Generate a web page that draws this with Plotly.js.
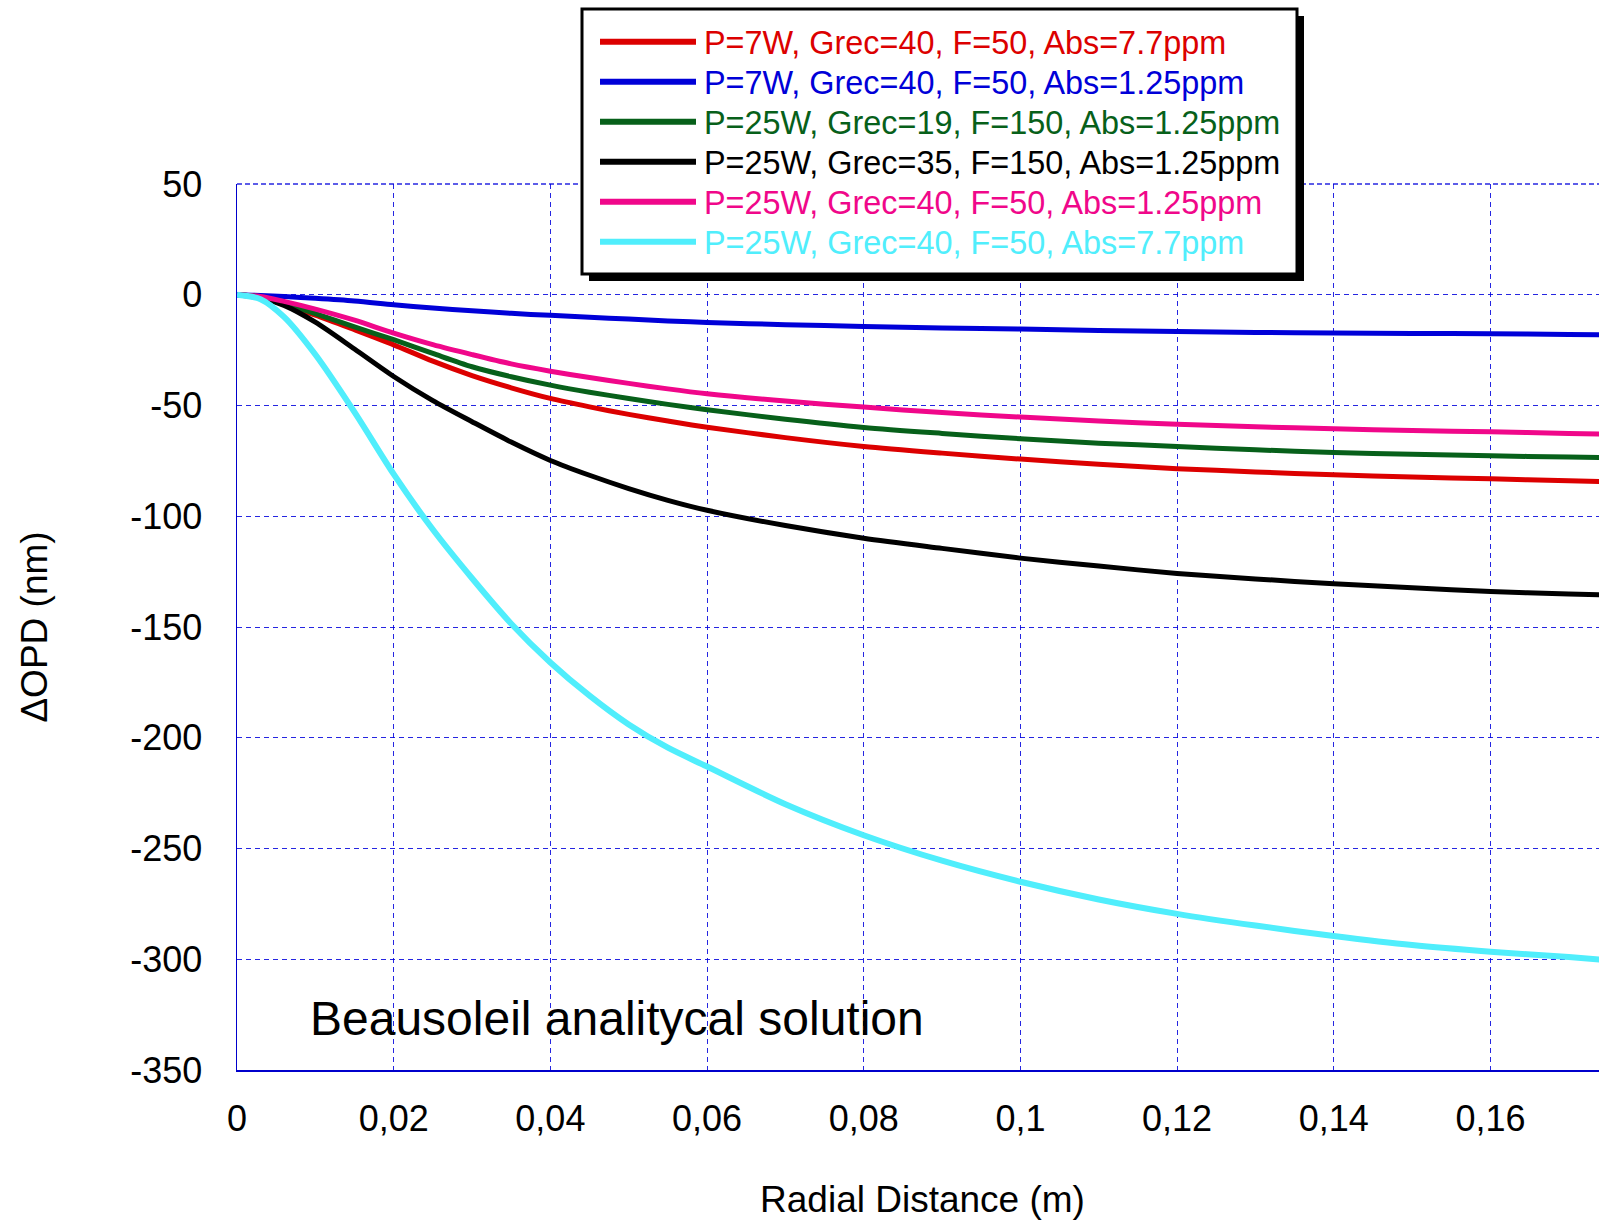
<!DOCTYPE html>
<html>
<head>
<meta charset="utf-8">
<script src="https://cdn.plot.ly/plotly-3.0.1.min.js"></script>
<style>
html,body{margin:0;padding:0;background:#fff;overflow:hidden;}
#chart{width:1620px;height:1220px;}
</style>
</head>
<body>
<div id="chart"></div>
<script>
// ---- data ----
const radialDistance = [0, 0.003, 0.006, 0.01, 0.015, 0.02, 0.025, 0.03, 0.035, 0.04, 0.045, 0.05, 0.055, 0.06, 0.07, 0.08, 0.09, 0.10, 0.11, 0.12, 0.13, 0.14, 0.15, 0.16, 0.17, 0.175];

const seriesNames = [
  "P=7W, Grec=40, F=50, Abs=7.7ppm",
  "P=7W, Grec=40, F=50, Abs=1.25ppm",
  "P=25W, Grec=19, F=150, Abs=1.25ppm",
  "P=25W, Grec=35, F=150, Abs=1.25ppm",
  "P=25W, Grec=40, F=50, Abs=1.25ppm",
  "P=25W, Grec=40, F=50, Abs=7.7ppm"
];

const opdRed   = [0, -1, -4.5, -9.2, -15.8, -22.6, -30, -36.5, -42, -46.8, -50.6, -54, -57, -59.8, -64.5, -68.5, -71.5, -74.2, -76.5, -78.5, -80, -81.3, -82.3, -83.1, -84, -84.4];
const opdBlue  = [0, -0.3, -0.8, -1.6, -2.8, -4.5, -6, -7.2, -8.4, -9.3, -10.2, -11, -11.8, -12.5, -13.5, -14.3, -15, -15.5, -16.1, -16.6, -17, -17.3, -17.5, -17.6, -17.9, -18.1];
const opdGreen = [0, -1, -4, -8.5, -14.5, -20.3, -26.5, -32.5, -37, -40.8, -44, -46.8, -49.5, -51.9, -56.2, -59.9, -62.6, -65, -67, -68.5, -70, -71.2, -72, -72.7, -73.3, -73.6];
const opdBlack = [0, -1.5, -4.8, -12.4, -24.5, -36.9, -47.8, -57.3, -66.5, -74.8, -81.5, -87.5, -92.8, -97.3, -104.2, -109.9, -114.5, -118.9, -122.5, -125.8, -128.3, -130.5, -132.3, -134, -135.1, -135.6];
const opdPink  = [0, -0.8, -3, -6.5, -11.5, -17.3, -22.5, -27, -31.2, -34.5, -37.4, -40, -42.5, -44.7, -48, -50.7, -53.2, -55.2, -57, -58.5, -59.6, -60.5, -61.3, -61.9, -62.6, -62.9];
const opdCyan  = [0, -2, -10, -27, -53, -81, -106, -128, -148.5, -166, -181, -194, -204.5, -213, -230, -244, -255.5, -265, -273, -279.5, -284.8, -289.5, -293.6, -296.6, -299, -300.4];

const xTickVals   = [0, 0.02, 0.04, 0.06, 0.08, 0.10, 0.12, 0.14, 0.16];
const xTickLabels = ["0", "0,02", "0,04", "0,06", "0,08", "0,1", "0,12", "0,14", "0,16"];
const yTickVals   = [50, 0, -50, -100, -150, -200, -250, -300, -350];
const yTickLabels = ["50", "0", "-50", "-100", "-150", "-200", "-250", "-300", "-350"];

const xTitle = "Radial Distance (m)";
const yTitle = "\u0394OPD (nm)";
const noteText = "Beausoleil analitycal solution";

// ---- styles ----
const seriesValues = [opdRed, opdBlue, opdGreen, opdBlack, opdPink, opdCyan];
const colors = ["#dc0000", "#0000d8", "#07601a", "#000000", "#f0078a", "#50eefc"];
const widths = [5, 5, 5, 5, 5, 6];

const W = 1620, H = 1220;
const ML = 237, MR = 12, MT = 184, MB = 150;
const PW = W - ML - MR, PH = H - MT - MB;
const px2x = p => (p - ML) / PW;
const px2y = p => (MT + PH - p) / PH;

const FONT = "Liberation Sans, Arial, Helvetica, sans-serif";
const GRID = "rgba(0,0,220,0.85)";

const traces = seriesValues.map((vals, i) => ({
  type: "scatter",
  mode: "lines",
  x: radialDistance,
  y: vals,
  name: seriesNames[i],
  line: {color: colors[i], width: widths[i], shape: "spline", smoothing: 0.8},
  showlegend: false,
  hoverinfo: "x+y+name"
}));

const shapes = [];
const annotations = [];
// top border of plot (dashed like the grid)
shapes.push({type: "line", xref: "paper", yref: "paper", x0: 0, x1: 1, y0: 1, y1: 1,
  line: {color: GRID, width: 1.3, dash: "5px,3px"}, layer: "below"});

// hand-drawn legend (box with drop shadow, long line samples)
const boxL = 582, boxR = 1297, boxT = 9, boxB = 274;
shapes.push({type: "rect", xref: "paper", yref: "paper",
  x0: px2x(boxL + 7), x1: px2x(boxR + 7), y0: px2y(boxB + 7), y1: px2y(boxT + 7),
  fillcolor: "#000", line: {width: 0}, layer: "above"});
shapes.push({type: "rect", xref: "paper", yref: "paper",
  x0: px2x(boxL), x1: px2x(boxR), y0: px2y(boxB), y1: px2y(boxT),
  fillcolor: "#fff", line: {color: "#000", width: 3}, layer: "above"});
seriesNames.forEach((nm, i) => {
  const ry = 41.7 + 40 * i;
  shapes.push({type: "line", xref: "paper", yref: "paper",
    x0: px2x(600), x1: px2x(696), y0: px2y(ry), y1: px2y(ry),
    line: {color: colors[i], width: 6}, layer: "above"});
  annotations.push({xref: "paper", yref: "paper", x: px2x(702), y: px2y(ry + 1),
    xanchor: "left", yanchor: "middle", showarrow: false, text: nm,
    font: {family: FONT, size: 32.4, color: colors[i]}});
});
annotations.push({xref: "paper", yref: "paper", x: px2x(308), y: px2y(1018),
  xanchor: "left", yanchor: "middle", showarrow: false, text: noteText,
  font: {family: FONT, size: 48, color: "#000"}});

const axisCommon = {
  showline: true, linecolor: "#0000cc", linewidth: 1.5, mirror: false,
  showgrid: true, gridcolor: GRID, gridwidth: 1, griddash: "5px,4px",
  zeroline: false, ticks: "", tickmode: "array",
  tickfont: {family: FONT, size: 36, color: "#000"},
  fixedrange: true
};

const layout = {
  width: W, height: H,
  margin: {l: ML, r: MR, t: MT, b: MB, pad: 0},
  paper_bgcolor: "#fff", plot_bgcolor: "#fff",
  font: {family: FONT, color: "#000"},
  xaxis: Object.assign({}, axisCommon, {
    range: [0, 0.175], tickvals: xTickVals, ticktext: xTickLabels,
    ticklabelstandoff: 16,
    title: {text: xTitle, font: {family: FONT, size: 37, color: "#000"}, standoff: 51}
  }),
  yaxis: Object.assign({}, axisCommon, {
    range: [-350, 50], tickvals: yTickVals, ticktext: yTickLabels,
    ticklabelstandoff: 26,
    title: {text: yTitle, font: {family: FONT, size: 37, color: "#000"}, standoff: 71}
  }),
  shapes: shapes,
  annotations: annotations,
  showlegend: false
};

Plotly.newPlot("chart", traces, layout, {displayModeBar: false, staticPlot: true});
</script>
</body>
</html>
